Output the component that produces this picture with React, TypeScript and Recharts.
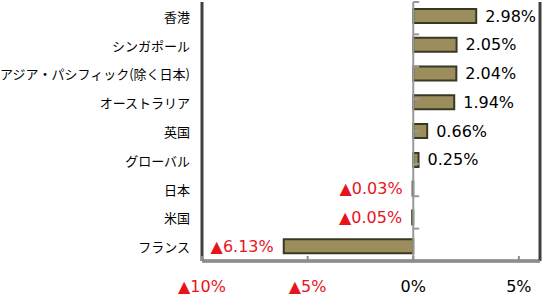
import React from "react";
import { BarChart, Bar, XAxis, YAxis, ReferenceLine, LabelList } from "recharts";

const categories = ["香港", "シンガポール", "アジア・パシフィック(除く日本)", "オーストラリア", "英国", "グローバル", "日本", "米国", "フランス"];
const values = [2.98, 2.05, 2.04, 1.94, 0.66, 0.25, -0.03, -0.05, -6.13];
const xTicks = [-10, -5, 0, 5];
const separators = [1, 2, 3, 4, 5, 6, 7, 8];
const xDomain: [number, number] = [-10, 6];
const sepDomain: [number, number] = [0, 9];

const data = categories.map((name, i) => ({ name, value: values[i] }));

const RED = "#e8141c";
const NUM_FONT = "'DejaVu Sans', Verdana, sans-serif";
const JP_FONT = "'Noto Sans CJK JP', sans-serif";

const fmt = (v: number) => (v < 0 ? "▲" + Math.abs(v) : String(v)) + "%";
const fmtVal = (v: number) => (v < 0 ? "▲" + Math.abs(v).toFixed(2) : v.toFixed(2)) + "%";

const XTick = (props: any) => {
  const { x, y, payload } = props;
  const v = payload.value as number;
  return (
    <g>
      <line x1={x} x2={x} y1={y} y2={y - 5} stroke="#8c8c8c" strokeWidth={2} />
      <text x={x} y={y + 31} textAnchor="middle" fill={v < 0 ? RED : "#000"} fontSize={16} fontFamily={NUM_FONT}>
        {fmt(v)}
      </text>
    </g>
  );
};

const YTick = (props: any) => {
  const { x, y, payload } = props;
  return (
    <text x={x} y={y} textAnchor="end" dominantBaseline="central" fill="#000" fontSize={13} fontFamily={JP_FONT}>
      {payload.value}
    </text>
  );
};

const ValueLabel = (props: any) => {
  const { x, y, width, height, value } = props;
  const v = value as number;
  const left = Math.min(x, x + width);
  const right = Math.max(x, x + width);
  const cy = y + height / 2;
  if (v >= 0) {
    return (
      <text x={right + 9} y={cy} textAnchor="start" dominantBaseline="central" fill="#000" fontSize={16} fontFamily={NUM_FONT}>
        {fmtVal(v)}
      </text>
    );
  }
  return (
    <text x={left - 10} y={cy} textAnchor="end" dominantBaseline="central" fill={RED} fontSize={16} fontFamily={NUM_FONT}>
      {fmtVal(v)}
    </text>
  );
};

export default function App() {
  return (
    <div style={{ position: "absolute", left: 0, top: 0, width: 550, height: 299 }}>
      <BarChart
        width={550}
        height={299}
        data={data}
        layout="vertical"
        margin={{ top: 2, right: 10, bottom: 0, left: 0 }}
      >
        <XAxis
          type="number"
          domain={xDomain}
          ticks={xTicks}
          allowDataOverflow
          height={38}
          tickSize={0}
          tickMargin={0}
          tickLine={false}
          axisLine={{ stroke: "#8c8c8c", strokeWidth: 2 }}
          tick={<XTick />}
          interval={0}
        />
        <YAxis
          type="category"
          dataKey="name"
          width={202}
          tickSize={0}
          tickMargin={12}
          tickLine={false}
          axisLine={false}
          tick={<YTick />}
          interval={0}
        />
        <YAxis yAxisId="sep" type="number" domain={sepDomain} reversed hide />
        <ReferenceLine x={xDomain[0]} stroke="#404040" strokeWidth={3} ifOverflow="visible" />
        <ReferenceLine x={xDomain[1]} stroke="#404040" strokeWidth={3} ifOverflow="visible" />
        <ReferenceLine yAxisId="sep" y={sepDomain[0]} stroke="#404040" strokeWidth={3} ifOverflow="visible" />
        <Bar dataKey="value" barSize={14} fill="#9c8e5c" stroke="#3a3824" strokeWidth={2} isAnimationActive={false}>
          <LabelList dataKey="value" content={<ValueLabel />} />
        </Bar>
        <ReferenceLine x={0} stroke="#999999" strokeWidth={2} />
        {separators.map((s) => (
          <ReferenceLine
            key={s}
            yAxisId="sep"
            segment={[{ x: 0, y: s }, { x: 0.28, y: s }]}
            stroke="#999999"
            strokeWidth={2}
          />
        ))}
      </BarChart>
    </div>
  );
}
